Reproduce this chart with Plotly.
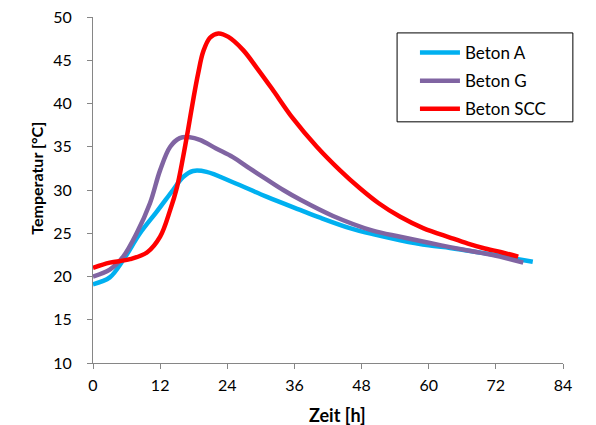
import plotly.graph_objects as go

# Beton A
a_h = [0, 3, 5.4, 8.4, 11.4, 14.3, 16.1, 17.9, 20.3, 25, 31.1, 37, 40.6, 45.9, 50, 54.9, 60, 63.8, 68, 72.7, 76, 78.6]
a_t = [19.1, 19.9, 21.9, 25.0, 27.5, 30.0, 31.5, 32.2, 32.1, 30.9, 29.2, 27.7, 26.8, 25.6, 24.9, 24.2, 23.6, 23.3, 22.9, 22.4, 22.0, 21.7]

# Beton G
g_h = [0, 3.0, 5.4, 7.8, 10.2, 12.0, 13.8, 15.5, 17.3, 19.1, 22, 25, 28, 31.1, 34, 37, 42.9, 50, 54.9, 60, 63.8, 68, 72.7, 76.9]
g_t = [20.0, 20.8, 22.3, 25.0, 28.5, 32.3, 35.0, 36.0, 36.1, 35.8, 34.8, 33.8, 32.5, 31.2, 30.0, 28.9, 27.0, 25.3, 24.6, 23.9, 23.4, 22.9, 22.3, 21.6]

# Beton SCC
s_h = [0, 3, 6.6, 9.7, 12.0, 13.8, 15.0, 16.1, 17.0, 17.9, 18.8, 19.7, 20.9, 22.4, 24.2, 26.8, 29.3, 32.0, 35.7, 40.0, 44.1, 47.7, 51, 54.9, 59, 63.8, 67, 69.7, 73, 76.0]
s_t = [21.0, 21.6, 22.0, 22.8, 24.6, 27.7, 30.3, 33.8, 37.0, 40.4, 43.5, 46.0, 47.6, 48.1, 47.7, 46.2, 44.1, 41.7, 38.3, 35.0, 32.3, 30.2, 28.5, 26.9, 25.6, 24.5, 23.8, 23.3, 22.8, 22.3]

series = [
    ("Beton A", a_h, a_t, "#00B0F0"),
    ("Beton G", g_h, g_t, "#8064A2"),
    ("Beton SCC", s_h, s_t, "#FF0000"),
]

fig = go.Figure()
for name, x, y, c in series:
    fig.add_trace(go.Scatter(
        x=x, y=y, name=name, mode="lines", legendgroup=name,
        line=dict(color=c, width=4.5, shape="spline", smoothing=1.0),
    ))

axis_common = dict(
    showline=True, linecolor="#868686", linewidth=1,
    ticks="outside", ticklen=5, tickcolor="#868686",
    showgrid=False, zeroline=False, automargin=False,
    ticklabeloverflow="allow",
    tickfont=dict(family="Lato", size=16, color="#000000"),
)

fig.update_layout(
    width=588, height=417,
    margin=dict(l=85, r=33, t=9, b=62),
    paper_bgcolor="white", plot_bgcolor="white",
    font=dict(family="Lato", color="#000000"),
    xaxis=dict(range=[0, 84], tick0=0, dtick=12, ticklabelstandoff=3, **axis_common),
    yaxis=dict(range=[10, 50], tick0=10, dtick=5, ticklabelstandoff=12, **axis_common),
    legend=dict(
        x=0.685, y=0.948, xanchor="left", yanchor="top",
        borderwidth=0, bgcolor="rgba(0,0,0,0)",
        font=dict(family="Lato", size=17),
        tracegroupgap=3, itemwidth=40,
    ),
    shapes=[dict(type="rect", xref="paper", yref="paper",
                 x0=0.647, x1=1.021, y0=0.697, y1=0.954,
                 line=dict(color="#000000", width=1), fillcolor="rgba(0,0,0,0)",
                 layer="below")],
    annotations=[
        dict(text="<b>Zeit [h]</b>", xref="paper", yref="paper", x=0.521, y=-0.150,
             xanchor="center", yanchor="middle", showarrow=False,
             font=dict(family="Lato", size=18)),
        dict(text="<b>Temperatur [°C]</b>", xref="paper", yref="paper", x=-0.121, y=0.533,
             xanchor="center", yanchor="middle", showarrow=False, textangle=-90,
             font=dict(family="Lato", size=16)),
    ],
)

fig.write_html("out.html")
